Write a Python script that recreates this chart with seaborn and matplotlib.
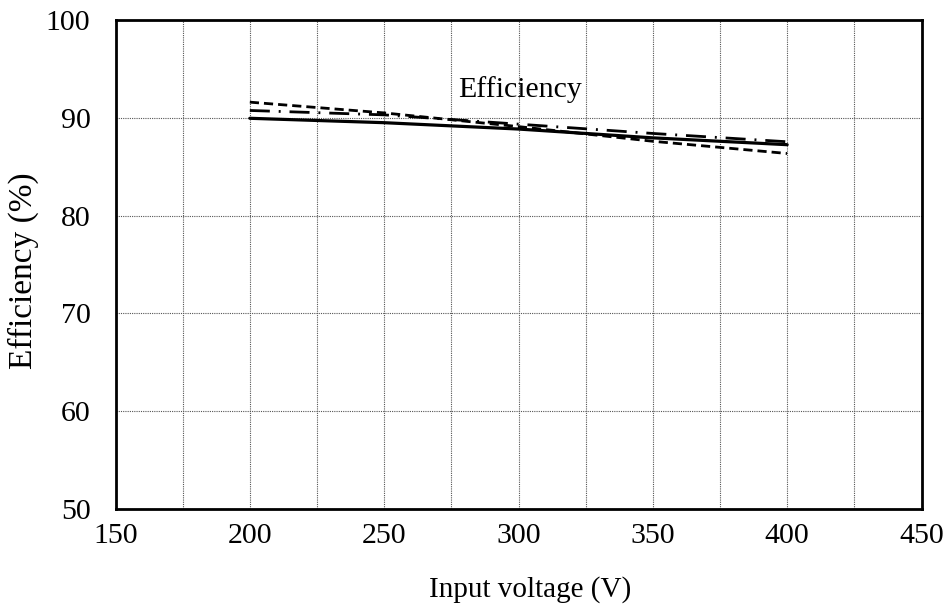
import matplotlib
matplotlib.use("Agg")
import matplotlib.pyplot as plt
import seaborn as sns
import pandas as pd
from matplotlib.ticker import MultipleLocator

voltage = [200, 250, 300, 350, 400]
eff_solid = [89.95, 89.5, 88.85, 87.95, 87.25]
eff_dashed = [91.6, 90.5, 89.1, 87.6, 86.35]
eff_dashdot = [90.75, 90.3, 89.35, 88.4, 87.55]

sns.set_theme(style="white")
plt.rcParams['font.family'] = ['Liberation Serif', 'DejaVu Serif']

df = pd.DataFrame({"v": voltage, "s": eff_solid, "d": eff_dashed, "dd": eff_dashdot})

fig = plt.figure(figsize=(9.51, 6.12), dpi=100)
ax = fig.add_axes([115.5/951, 1-509/612, (921.5-115.5)/951, (509-20)/612])

sns.lineplot(data=df, x="v", y="s", ax=ax, color="black", lw=2.3, linestyle="-")
sns.lineplot(data=df, x="v", y="d", ax=ax, color="black", lw=2.0, linestyle=(0, (3.3, 1.8)))
sns.lineplot(data=df, x="v", y="dd", ax=ax, color="black", lw=2.0, linestyle=(0, (7.2, 3.2, 0.7, 3.2)))

ax.set_xlim(150, 450)
ax.set_ylim(50, 100)
ax.xaxis.set_major_locator(MultipleLocator(50))
ax.xaxis.set_minor_locator(MultipleLocator(25))
ax.yaxis.set_major_locator(MultipleLocator(10))
ax.grid(True, which="both", axis="x", color="#555555", linestyle=(0, (1, 1)), linewidth=0.8)
ax.grid(True, which="major", axis="y", color="#555555", linestyle=(0, (1, 1)), linewidth=0.8)
ax.set_axisbelow(True)
for sp in ax.spines.values():
    sp.set_color("black")
    sp.set_linewidth(2.0)
ax.tick_params(axis="both", which="both", length=0, labelsize=21.5, colors="black")
ax.tick_params(axis="x", pad=10)
ax.tick_params(axis="y", pad=18)

ax.set_xlabel("Input voltage (V)", fontsize=21, color="black")
ax.xaxis.set_label_coords(0.514, -0.138)
ax.set_ylabel("Efficiency (%)", fontsize=24, color="black")
ax.yaxis.set_label_coords(-0.095, 0.487)
ax.text(300.5, 92.13, "Efficiency", fontsize=21.5, ha="center", va="baseline", color="black")

fig.savefig("out.png", dpi=100)
